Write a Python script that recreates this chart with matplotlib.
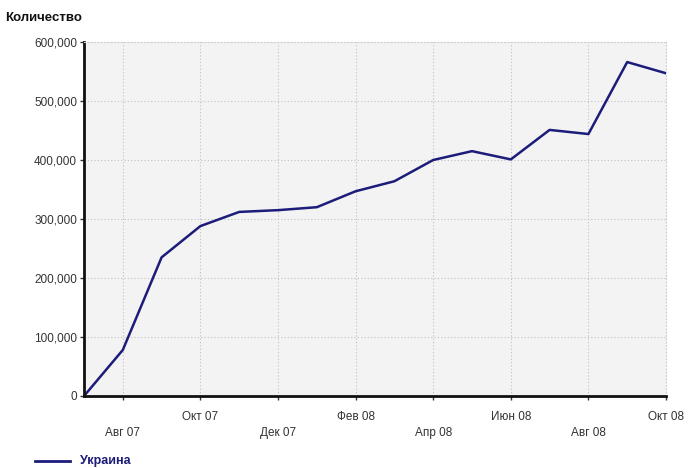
import matplotlib
matplotlib.use("Agg")
import matplotlib.pyplot as plt
from matplotlib.ticker import FuncFormatter

plt.rcParams['font.family'] = ['Liberation Sans', 'DejaVu Sans']

months = ["Июл 07", "Авг 07", "Сен 07", "Окт 07", "Ноя 07", "Дек 07", "Янв 08", "Фев 08",
          "Мар 08", "Апр 08", "Май 08", "Июн 08", "Июл 08", "Авг 08", "Сен 08", "Окт 08"]
values = [0, 78000, 235000, 288000, 312000, 315000, 320000, 347000,
          364000, 400000, 415000, 401000, 451000, 444000, 566000, 547000]
tick_labels = ["Авг 07", "Окт 07", "Дек 07", "Фев 08", "Апр 08", "Июн 08", "Авг 08", "Окт 08"]
series_name = "Украина"

W, H = 691, 468
fig = plt.figure(figsize=(W / 100, H / 100), dpi=100)
fig.patch.set_facecolor("white")
left, right, top, bottom = 84, 666, 42, 396
ax = fig.add_axes([left / W, 1 - bottom / H, (right - left) / W, (bottom - top) / H])
ax.set_facecolor("#f3f3f3")

x = list(range(len(months)))
line_color = "#1c1c7a"
ax.plot(x, values, color=line_color, lw=1.8, solid_joinstyle="round")

ax.set_xlim(0, len(months) - 1)
ax.set_ylim(0, 600000)
ax.set_yticks(range(0, 600001, 100000))
ax.yaxis.set_major_formatter(FuncFormatter(lambda v, p: f"{int(v):,}"))

tick_pos = [months.index(t) for t in tick_labels]
ax.set_xticks(tick_pos)
ax.set_xticklabels([])
for i, (p, lab) in enumerate(zip(tick_pos, tick_labels)):
    dy = 0.105 if i % 2 == 0 else 0.06
    ax.text(p, -dy, lab, transform=ax.get_xaxis_transform(), ha="center", va="center",
            fontsize=8.5, color="#333333")

ax.grid(True, color="#c0c0c0", linestyle=(0, (1, 2)), lw=0.8)
for s in ["top", "right"]:
    ax.spines[s].set_color("#d0d0d0")
    ax.spines[s].set_linestyle((0, (1, 2)))
    ax.spines[s].set_linewidth(0.8)
for s in ["left", "bottom"]:
    ax.spines[s].set_color("#111111")
    ax.spines[s].set_linewidth(2)
ax.tick_params(axis="both", length=3, width=1, color="#333333", labelsize=8.5,
               labelcolor="#333333", pad=2)

fig.text(5 / W, 1 - 18 / H, "Количество", fontsize=9.5, fontweight="bold",
         ha="left", va="center", color="#111111")

# legend
fig.add_artist(plt.Line2D([35 / W, 70 / W], [1 - 461 / H, 1 - 461 / H], color=line_color, lw=2))
fig.text(80 / W, 1 - 461 / H, series_name, fontsize=9, fontweight="bold",
         ha="left", va="center", color="#1c1c7a")

fig.savefig("out.png", dpi=100)
